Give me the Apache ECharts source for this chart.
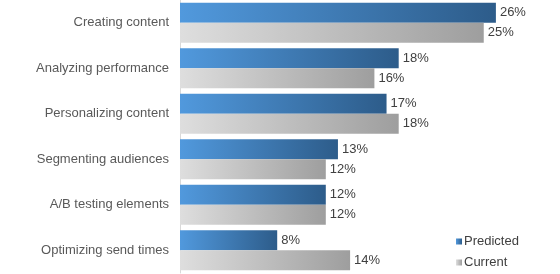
<!DOCTYPE html>
<html>
<head>
<meta charset="utf-8">
<script src="https://cdn.jsdelivr.net/npm/echarts@6/dist/echarts.min.js"></script>
<style>
  html, body { margin: 0; padding: 0; background: #fff; }
  #main { width: 560px; height: 274px; }
</style>
</head>
<body>
<div id="main"></div>
<script>
const categories = [
  "Creating content",
  "Analyzing performance",
  "Personalizing content",
  "Segmenting audiences",
  "A/B testing elements",
  "Optimizing send times"
];
const predicted = [26, 18, 17, 13, 12, 8];
const current = [25, 16, 18, 12, 12, 14];

let chart = echarts.init(document.getElementById("main"));

let grad = (from, to) =>
  new echarts.graphic.LinearGradient(0, 0, 1, 0, [
    { offset: 0, color: from },
    { offset: 1, color: to }
  ]);

let font = "Liberation Sans, Arial, sans-serif";

let valueLabel = {
  show: true,
  position: "right",
  distance: 4,
  formatter: "{c}%",
  color: "#404040",
  fontSize: 13,
  fontFamily: font
};

// one legend per row, stacked at the bottom right
let legendRow = (name, top) => ({
  left: 456,
  top: top,
  padding: 0,
  itemWidth: 6,
  itemHeight: 6,
  itemGap: 0,
  icon: "rect",
  textStyle: { color: "#404040", fontSize: 13, fontFamily: font, padding: [0, 0, 0, -3] },
  data: [name]
});

let option = {
  animation: false,
  grid: { left: 180, right: 15.5, top: -1, bottom: 1 },
  legend: [legendRow("Predicted", 235), legendRow("Current", 256)],
  xAxis: {
    type: "value",
    min: 0,
    max: 30,
    show: false
  },
  yAxis: {
    type: "category",
    data: categories,
    inverse: true,
    axisLine: { show: true, lineStyle: { color: "#d9d9d9", width: 1 } },
    axisTick: { show: false },
    axisLabel: {
      color: "#595959",
      fontSize: 13,
      margin: 11,
      fontFamily: font
    }
  },
  series: [
    {
      name: "Predicted",
      type: "bar",
      data: predicted,
      barGap: "0%",
      barCategoryGap: "12%",
      itemStyle: { color: grad("#5199dd", "#2d5c8a") },
      label: valueLabel
    },
    {
      name: "Current",
      type: "bar",
      data: current,
      itemStyle: { color: grad("#dedede", "#9e9e9e") },
      label: valueLabel
    }
  ]
};
chart.setOption(option);
</script>
</body>
</html>
